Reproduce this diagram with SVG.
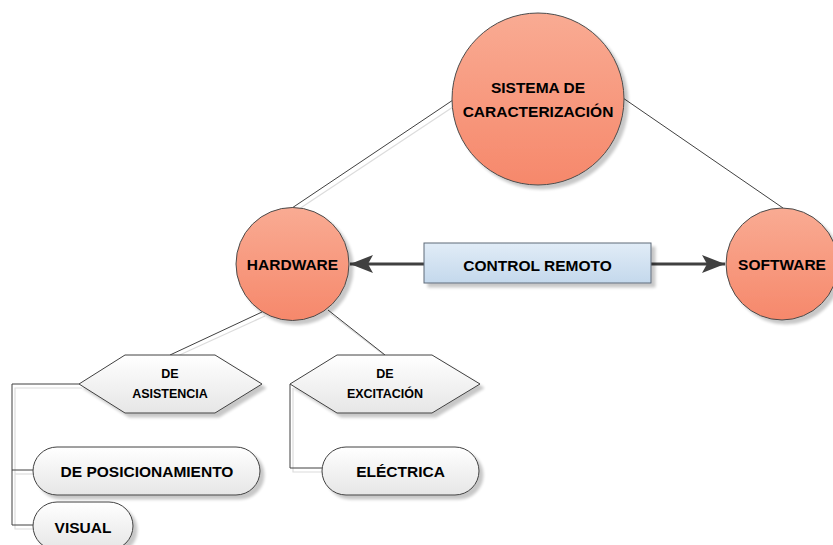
<svg xmlns="http://www.w3.org/2000/svg" width="833" height="545" viewBox="0 0 833 545">
  <defs>
    <linearGradient id="gCircle" x1="0" y1="0" x2="0" y2="1">
      <stop offset="0" stop-color="#f9ab93"/>
      <stop offset="1" stop-color="#f6886b"/>
    </linearGradient>
    <linearGradient id="gBlue" x1="0" y1="0" x2="0" y2="1">
      <stop offset="0" stop-color="#e1ecf7"/>
      <stop offset="1" stop-color="#c4d8ec"/>
    </linearGradient>
    <linearGradient id="gGrey" x1="0" y1="0" x2="0" y2="1">
      <stop offset="0" stop-color="#ffffff"/>
      <stop offset="1" stop-color="#e6e6e6"/>
    </linearGradient>
    <filter id="shadow" x="-20%" y="-20%" width="150%" height="150%">
      <feGaussianBlur in="SourceAlpha" stdDeviation="1.5"/>
      <feOffset dx="4" dy="4" result="off"/>
      <feComponentTransfer>
        <feFuncA type="linear" slope="0.22"/>
      </feComponentTransfer>
      <feMerge>
        <feMergeNode/>
        <feMergeNode in="SourceGraphic"/>
      </feMerge>
    </filter>
    <marker id="arrow" markerWidth="24" markerHeight="20" refX="23" refY="10" orient="auto" markerUnits="userSpaceOnUse">
      <path d="M0,1 L23,10 L0,19 L5,10 Z" fill="#404040"/>
    </marker>
  </defs>
  <style>
    .node circle { fill: url(#gCircle); stroke: #4a4a4a; stroke-width: 1; filter: url(#shadow); }
    .shape { fill: url(#gGrey); stroke: #404040; stroke-width: 1; filter: url(#shadow); }
    .lbl { font-family: "Liberation Sans", Arial, sans-serif; font-weight: bold; font-size: 15.5px; fill: #000; text-anchor: middle; }
    .small { font-size: 12.5px; }
    .link { fill: none; stroke: #404040; stroke-width: 1; }
    .link-shadow { fill: none; stroke: #dcdcdc; stroke-width: 1.2; }
    .flow { fill: none; stroke: #404040; stroke-width: 3; marker-end: url(#arrow); }
  </style>

  <!-- connectors -->
  <g id="connectors">
    <!-- soft shadows under the thin links -->
    <g transform="translate(3,4)">
      <line class="link-shadow" x1="453" y1="101" x2="293" y2="207"/>
      <line class="link-shadow" x1="262" y1="312" x2="170" y2="354"/>
      <line class="link-shadow" x1="328" y1="310" x2="385" y2="354"/>
      <polyline class="link-shadow" points="79,384 12,384 12,525 33,525"/>
      <line class="link-shadow" x1="12" y1="470" x2="33" y2="470"/>
      <polyline class="link-shadow" points="290,384 290,468 322,468"/>
    </g>
    <line class="link" x1="453" y1="100" x2="292" y2="208"/>
    <line class="link" x1="623" y1="98" x2="783" y2="208"/>
    <line class="link" x1="262" y1="312" x2="170" y2="355"/>
    <line class="link" x1="328" y1="310" x2="385" y2="355"/>
    <polyline class="link" points="79,384 12,384 12,525 33,525"/>
    <line class="link" x1="12" y1="470" x2="33" y2="470"/>
    <polyline class="link" points="290,384 290,468 322,468"/>
    <line class="flow" x1="424" y1="264" x2="350" y2="264"/>
    <line class="flow" x1="651" y1="264" x2="725" y2="264"/>
  </g>

  <g id="sistema" class="node">
    <circle cx="538" cy="99" r="86"/>
    <text class="lbl" x="538" y="93">SISTEMA DE</text>
    <text class="lbl" x="538" y="117">CARACTERIZACIÓN</text>
  </g>

  <g id="hardware" class="node">
    <circle cx="292.5" cy="264" r="56.5"/>
    <text class="lbl" x="292.5" y="270">HARDWARE</text>
  </g>

  <g id="software" class="node">
    <circle cx="782" cy="264" r="56"/>
    <text class="lbl" x="782" y="270">SOFTWARE</text>
  </g>

  <g id="control-remoto">
    <rect x="424" y="243" width="227" height="40" fill="url(#gBlue)" stroke="#5e6a78" stroke-width="1" filter="url(#shadow)"/>
    <text class="lbl" x="537.5" y="271">CONTROL REMOTO</text>
  </g>

  <g id="de-asistencia">
    <polygon class="shape" points="79,384 125,355 215,355 262,384 215,413 125,413"/>
    <text class="lbl small" x="170" y="378">DE</text>
    <text class="lbl small" x="170" y="398">ASISTENCIA</text>
  </g>

  <g id="de-excitacion">
    <polygon class="shape" points="290,384 337,355 432,355 480,384 432,413 337,413"/>
    <text class="lbl small" x="385" y="378">DE</text>
    <text class="lbl small" x="385" y="398">EXCITACIÓN</text>
  </g>

  <g id="de-posicionamiento">
    <rect class="shape" x="33" y="447" width="227" height="48" rx="24" ry="24"/>
    <text class="lbl" x="147" y="477">DE POSICIONAMIENTO</text>
  </g>

  <g id="visual">
    <rect class="shape" x="33" y="502" width="100" height="48" rx="24" ry="24"/>
    <text class="lbl" x="83" y="533">VISUAL</text>
  </g>

  <g id="electrica">
    <rect class="shape" x="322" y="447" width="157" height="48" rx="24" ry="24"/>
    <text class="lbl" x="400.5" y="477">ELÉCTRICA</text>
  </g>
</svg>
